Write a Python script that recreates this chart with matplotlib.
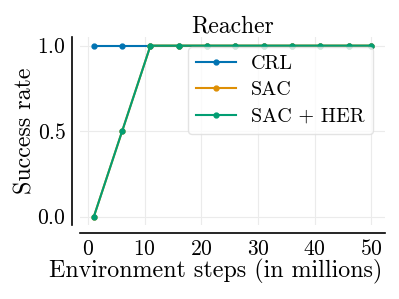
import matplotlib
matplotlib.use("Agg")
import matplotlib.pyplot as plt

plt.rcParams['font.family'] = 'serif'
plt.rcParams['font.serif'] = ['cmr10']
plt.rcParams['mathtext.fontset'] = 'cm'
plt.rcParams['axes.formatter.use_mathtext'] = True

# data
steps = [1, 6, 11, 16, 21, 26, 31, 36, 41, 46, 50]
crl = [1.0, 1.0, 1.0, 1.0, 1.0, 1.0, 1.0, 1.0, 1.0, 1.0, 1.0]
sac = [0.0, 0.5, 1.0, 1.0, 1.0, 1.0, 1.0, 1.0, 1.0, 1.0, 1.0]
sac_her = [0.0, 0.5, 1.0, 1.0, 1.0, 1.0, 1.0, 1.0, 1.0, 1.0, 1.0]
names = ['CRL', 'SAC', 'SAC + HER']
colors = ['#0173b2', '#de8f05', '#029e73']

fig = plt.figure(figsize=(3.99, 2.99), dpi=100)
ax = fig.add_axes([0.2005, 0.247, 0.7645, 0.629])

for ys, name, c in zip([crl, sac, sac_her], names, colors):
    ax.plot(steps, ys, color=c, lw=1.5, marker='o', markersize=3.5, label=name)

ax.set_xticks([0, 10, 20, 30, 40, 50])
ax.set_yticks([0.0, 0.5, 1.0])
ax.grid(True, color='#ebebeb', lw=0.8)
ax.set_axisbelow(True)
ax.tick_params(length=0, labelsize=15.5, pad=4)

for s in ['top', 'right']:
    ax.spines[s].set_visible(False)
for s in ['left', 'bottom']:
    ax.spines[s].set_position(('outward', 6))
    ax.spines[s].set_linewidth(1.2)

ax.set_title('Reacher', fontsize=17, pad=2)
ax.set_xlabel('Environment steps (in millions)', fontsize=17.3)
ax.xaxis.set_label_coords(0.446, -0.18, transform=ax.transAxes)
ax.set_ylabel('Success rate', fontsize=17.2)
ax.yaxis.set_label_coords(-0.143, 0.5, transform=ax.transAxes)

leg = ax.legend(loc='upper right', bbox_to_anchor=(0.993, 1.0), fontsize=14.5,
                frameon=True, borderaxespad=0.5, handlelength=2.0,
                labelspacing=0.4, handletextpad=0.75)
leg.get_frame().set_edgecolor('#dddddd')

fig.savefig('out.png', dpi=100)
